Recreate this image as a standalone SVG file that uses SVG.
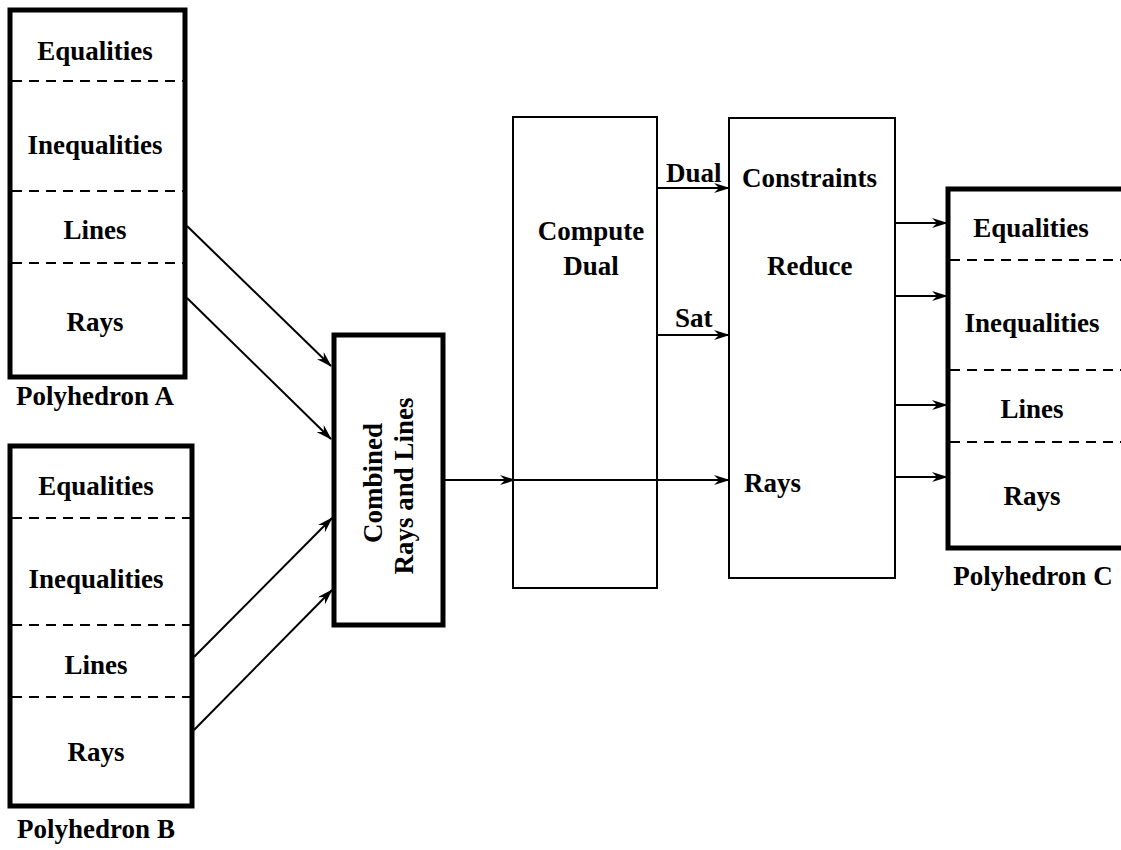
<svg xmlns="http://www.w3.org/2000/svg" width="1121" height="850" viewBox="0 0 1121 850">
<style>
text{font-size:27px;font-weight:bold;fill:#000}
.c{text-anchor:middle}
.thick{fill:none;stroke:#000;stroke-width:5}
.thin{fill:none;stroke:#000;stroke-width:2}
.dash{stroke:#000;stroke-width:2;stroke-dasharray:10 7}
.conn{stroke:#000;stroke-width:2;fill:none;marker-end:url(#ah)}
</style>
<defs>
<marker id="ah" viewBox="0 0 16 10" refX="15" refY="5" markerWidth="16" markerHeight="10" markerUnits="userSpaceOnUse" orient="auto">
<path d="M0,0 L16,5 L0,10 L5,5 Z" fill="#000"/>
</marker>
</defs>
<rect width="1121" height="850" fill="#fff"/>
<g font-family="'Liberation Serif', serif">
<g id="polyA">
<rect class="thick" x="10" y="10" width="175" height="367"/>
<line class="dash" x1="12" y1="81" x2="183" y2="81"/>
<line class="dash" x1="12" y1="191" x2="183" y2="191"/>
<line class="dash" x1="12" y1="263" x2="183" y2="263"/>
<text class="c" x="95" y="60">Equalities</text>
<text class="c" x="95" y="154">Inequalities</text>
<text class="c" x="95" y="239">Lines</text>
<text class="c" x="95" y="331">Rays</text>
<text class="c" x="95" y="405">Polyhedron A</text>
</g>
<g id="polyB">
<rect class="thick" x="10" y="446" width="182" height="360"/>
<line class="dash" x1="12" y1="518" x2="190" y2="518"/>
<line class="dash" x1="12" y1="625" x2="190" y2="625"/>
<line class="dash" x1="12" y1="697" x2="190" y2="697"/>
<text class="c" x="96" y="495">Equalities</text>
<text class="c" x="96" y="588">Inequalities</text>
<text class="c" x="96" y="674">Lines</text>
<text class="c" x="96" y="761">Rays</text>
<text class="c" x="96" y="838">Polyhedron B</text>
</g>
<g id="combined">
<rect class="thick" x="334" y="335" width="109" height="290"/>
<text class="c" transform="translate(382,483) rotate(-90)">Combined</text>
<text class="c" transform="translate(413,486) rotate(-90)">Rays and Lines</text>
</g>
<g id="computeDual">
<rect class="thin" x="513" y="117" width="144" height="471"/>
<text class="c" x="591" y="240">Compute</text>
<text class="c" x="591" y="275">Dual</text>
</g>
<g id="reduce">
<rect class="thin" x="729" y="118" width="166" height="460"/>
<text x="742" y="187">Constraints</text>
<text x="767" y="275">Reduce</text>
<text x="744" y="492">Rays</text>
</g>
<g id="polyC">
<rect class="thick" x="948" y="189" width="185" height="359"/>
<line class="dash" x1="950" y1="260" x2="1121" y2="260"/>
<line class="dash" x1="950" y1="370" x2="1121" y2="370"/>
<line class="dash" x1="950" y1="442" x2="1121" y2="442"/>
<text class="c" x="1031" y="237">Equalities</text>
<text class="c" x="1032" y="332">Inequalities</text>
<text class="c" x="1032" y="418">Lines</text>
<text class="c" x="1032" y="505">Rays</text>
<text class="c" x="1033" y="585">Polyhedron C</text>
</g>
<g id="connectors">
<line class="conn" x1="187" y1="226" x2="331" y2="366"/>
<line class="conn" x1="187" y1="298" x2="331" y2="439"/>
<line class="conn" x1="194" y1="657" x2="332" y2="518"/>
<line class="conn" x1="194" y1="730" x2="332" y2="590"/>
<line class="conn" x1="445" y1="480" x2="515" y2="480"/>
<line class="conn" x1="513" y1="480" x2="729" y2="480"/>
<line class="conn" x1="657" y1="188" x2="729" y2="188"/>
<line class="conn" x1="657" y1="335" x2="729" y2="335"/>
<line class="conn" x1="895" y1="223" x2="947" y2="223"/>
<line class="conn" x1="895" y1="296" x2="947" y2="296"/>
<line class="conn" x1="895" y1="405" x2="947" y2="405"/>
<line class="conn" x1="895" y1="477" x2="947" y2="477"/>
<text x="666" y="182">Dual</text>
<text x="675" y="327">Sat</text>
</g>
</g>
</svg>
